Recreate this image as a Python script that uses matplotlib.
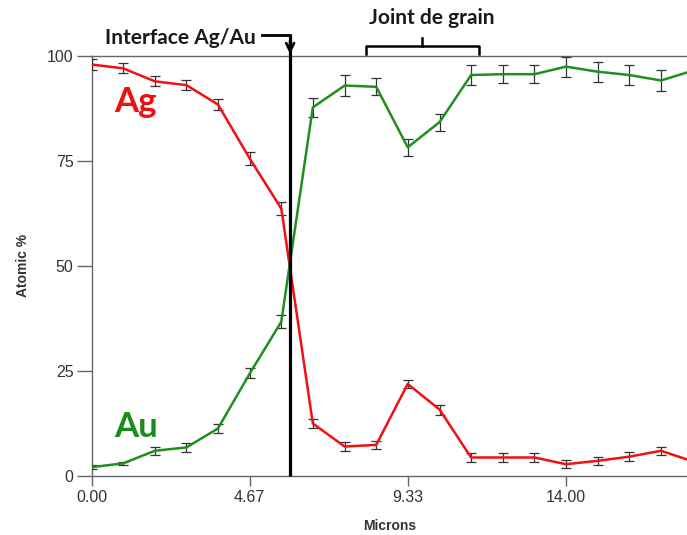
import matplotlib
matplotlib.use("Agg")
import matplotlib.pyplot as plt

# profil de composition a travers l'interface Ag/Au
microns = [0.00, 0.93, 1.87, 2.80, 3.73, 4.67, 5.60, 6.53, 7.47, 8.40,
           9.33, 10.27, 11.20, 12.13, 13.07, 14.00, 14.93, 15.87, 16.80, 17.73]
ag = [97.9, 97.0, 93.9, 93.0, 88.4, 75.5, 63.6, 12.5, 7.0, 7.4,
      21.9, 15.8, 4.4, 4.4, 4.4, 2.8, 3.6, 4.6, 6.0, 3.5]
ag_err = [1.3, 1.2, 1.2, 1.2, 1.3, 1.5, 1.6, 1.0, 1.0, 1.0,
          1.0, 1.2, 1.0, 1.0, 1.0, 1.0, 1.0, 1.0, 1.0, 1.0]
au = [2.1, 3.0, 6.0, 6.8, 11.3, 24.4, 36.7, 87.7, 92.9, 92.6,
      78.2, 84.2, 95.4, 95.6, 95.6, 97.4, 96.2, 95.4, 94.1, 96.4]
au_err = [0.4, 0.3, 1.0, 1.0, 1.0, 1.2, 1.5, 2.2, 2.5, 2.0,
          2.0, 2.0, 2.4, 2.1, 2.1, 2.4, 2.4, 2.4, 2.4, 2.4]
xticks = [0.0, 14 / 3, 28 / 3, 14.0]
xtick_labels = ["0.00", "4.67", "9.33", "14.00"]
yticks = [0, 25, 50, 75, 100]

interface_x = 5.86
grain = (8.10, 11.43)

plt.rcParams['font.family'] = ['Liberation Sans Narrow', 'Liberation Sans', 'DejaVu Sans']

fig = plt.figure(figsize=(6.87, 5.35), dpi=100)
ax = fig.add_axes([0.1332, 0.1103, 0.8668, 0.7856])

red = '#f21010'
green = '#1f8f1f'
ax.errorbar(microns, ag, yerr=ag_err, color=red, lw=1.8, ecolor='#333333',
            elinewidth=0.9, capsize=3.5, capthick=0.9, zorder=3)
ax.errorbar(microns, au, yerr=au_err, color=green, lw=1.8, ecolor='#333333',
            elinewidth=0.9, capsize=3.5, capthick=0.9, zorder=3)

ax.set_xlim(0, 17.57)
ax.set_ylim(0, 100)
ax.set_xticks(xticks)
ax.set_xticklabels(xtick_labels)
ax.set_yticks(yticks)

for s in ['left', 'bottom', 'top']:
    ax.spines[s].set_color('#666666')
    ax.spines[s].set_linewidth(1.0)
ax.spines['right'].set_visible(False)
ax.tick_params(axis='y', length=11, width=1.0, color='#666666', labelsize=11.5,
               labelcolor='#333333', pad=2)
ax.tick_params(axis='x', length=7, width=1.0, color='#666666', labelsize=11.5,
               labelcolor='#333333', pad=3)

ax.set_ylabel('Atomic %', fontsize=10, fontweight='bold', color='#333333', labelpad=12,
              family=['Liberation Sans', 'DejaVu Sans'])
ax.set_xlabel('Microns', fontsize=10, fontweight='bold', color='#333333', labelpad=10,
              family=['Liberation Sans', 'DejaVu Sans'])

# etiquettes des elements
ax.text(0.68, 89.0, 'Ag', color='#ee1111', fontsize=25, fontweight='bold',
        family=['Lato', 'DejaVu Sans'], va='center')
ax.text(0.68, 11.6, 'Au', color='#1a8c1a', fontsize=25, fontweight='bold',
        family=['Lato', 'DejaVu Sans'], va='center')

# interface Ag/Au : ligne verticale + fleche
ax.plot([interface_x, interface_x], [0, 104.9], color='black', lw=2.3,
        clip_on=False, zorder=4, solid_capstyle='butt')
ax.plot([5.03, interface_x], [104.9, 104.9], color='black', lw=2.0,
        clip_on=False, zorder=4)
ax.annotate('', xy=(interface_x, 100.4), xytext=(interface_x, 103.5),
            arrowprops=dict(arrowstyle='->', lw=2.0, color='black',
                            mutation_scale=14, shrinkA=0, shrinkB=0),
            annotation_clip=False)
ax.text(4.85, 104.3, 'Interface Ag/Au', fontsize=15, fontweight='bold',
        family=['Lato', 'DejaVu Sans'], ha='right', va='center', color='#1a1a1a')

# joint de grain : accolade
gx = (grain[0] + grain[1]) / 2
ax.plot([grain[0], grain[0], grain[1], grain[1]], [100.4, 102.4, 102.4, 100.4],
        color='black', lw=1.8, clip_on=False)
ax.plot([gx, gx], [102.4, 104.3], color='black', lw=1.8, clip_on=False)
ax.text(10.04, 109.0, 'Joint de grain', fontsize=15, fontweight='bold',
        family=['Lato', 'DejaVu Sans'], ha='center', va='center', color='#1a1a1a')

fig.savefig('out.png', dpi=100)
